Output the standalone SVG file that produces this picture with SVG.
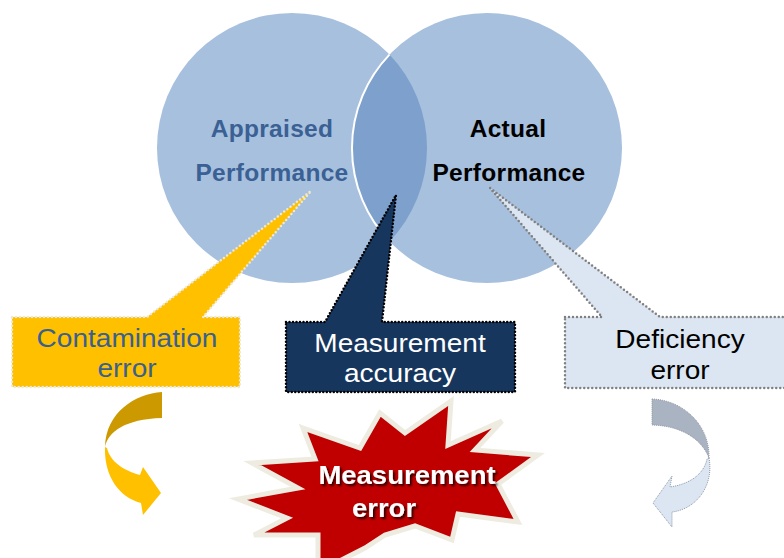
<svg xmlns="http://www.w3.org/2000/svg" width="784" height="558" viewBox="0 0 784 558">
<style>
.t{font-family:"Liberation Sans",Arial,sans-serif;text-anchor:middle}
.b{font-weight:bold;font-size:24.5px;letter-spacing:0.3px}
.r{font-size:25.5px}
.circ{fill:#A7C0DE}
</style>
<defs>
<filter id="sh" x="-10%" y="-20%" width="130%" height="150%">
<feDropShadow dx="2" dy="2" stdDeviation="1" flood-color="#000" flood-opacity="0.75"/>
</filter>
</defs>
<rect width="784" height="558" fill="#fff"/>
<g id="appraised">
<circle class="circ" cx="292" cy="148" r="135"/>
</g>
<g id="actual">
<circle class="circ" cx="487" cy="148" r="135"/>
</g>
<g id="overlap">
<path d="M389.5,54.6 A135,135 0 0,1 389.5,241.4 A135,135 0 0,1 389.5,54.6 Z" fill="#7DA1CC"/>
<path d="M389.5,54.6 A135,135 0 0,0 389.5,241.4" fill="none" stroke="#fff" stroke-width="2"/>
</g>
<g id="labels">
<text class="t b" x="272" y="137" fill="#3A6094">Appraised</text>
<text class="t b" x="272" y="181" fill="#3A6094">Performance</text>
<text class="t b" x="508" y="137" fill="#000">Actual</text>
<text class="t b" x="509" y="181" fill="#000">Performance</text>
</g>
<g id="contamination">
<path d="M12,317 L147,317 L311,191 L203,317 L240,317 L240,387 L12,387 Z" fill="#FFC000" stroke="#ECE8DC" stroke-width="2.5" stroke-dasharray="0 4" stroke-linecap="round" stroke-linejoin="round"/>
<text class="t r" transform="translate(127,347) scale(1.1,1)" fill="#3A6090">Contamination</text>
<text class="t r" transform="translate(127,377) scale(1.1,1)" fill="#3A6090">error</text>
</g>
<g id="accuracy">
<path d="M286,322 L325,322 L396,195 L382,322 L515,322 L515,392 L286,392 Z" fill="#17365D" stroke="#000" stroke-width="2.5" stroke-dasharray="0 3.5" stroke-linecap="round" stroke-linejoin="round"/>
<text class="t r" transform="translate(400,352) scale(1.1,1)" fill="#fff">Measurement</text>
<text class="t r" transform="translate(400,382) scale(1.1,1)" fill="#fff">accuracy</text>
</g>
<g id="deficiency">
<path d="M565,317 L602,317 L490,188 L660,317 L800,317 L800,388 L565,388 Z" fill="#DCE6F2" stroke="#808080" stroke-width="2.5" stroke-dasharray="0 4" stroke-linecap="round" stroke-linejoin="round"/>
<text class="t r" transform="translate(680,348) scale(1.1,1)" fill="#000">Deficiency</text>
<text class="t r" transform="translate(680,379) scale(1.1,1)" fill="#000">error</text>
</g>
<g id="connectors">
<path d="M162,392 C135,394 106,412 105,447 C108,432 125,419 162,418 Z" fill="#CC9A00"/>
<path d="M105,447 C104,475 118,497 141,503 L143,515 L161,493 L143,467 L140,475 C125,471 110,462 107,448 Z" fill="#FFC000"/>
<path d="M652,399 C683,400 710,425 709,458 C702,440 683,426 652,425 Z" fill="#AAB3C1" stroke="#9099A6" stroke-width="1" stroke-dasharray="1 1"/>
<path d="M709,458 C714,485 697,509 672,512 L672,527 L653,503 L672,476 L670,487 C690,484 704,474 707,459 Z" fill="#DCE6F2" stroke="#9099A6" stroke-width="1" stroke-dasharray="1 1"/>
</g>
<g id="error">
<path d="M303,428 L360,448 L380,413 L405,433 L451,401 L448,445 L502,421 L475,450 L538,455 L498,484 L518,522 L458,514 L452,540 L415,526 L385,535 L365,548 L318,572 L318,535 L254,535 L287,518 L238,499 L298,488 L252,463 L315,459 Z" fill="#C00000" stroke="#EEECE1" stroke-width="5" stroke-linejoin="miter"/>
<g filter="url(#sh)">
<text class="t" transform="translate(407,484) scale(1.1,1)" font-size="25" font-weight="bold" fill="#fff">Measurement</text>
<text class="t" transform="translate(384,517) scale(1.1,1)" font-size="25" font-weight="bold" fill="#fff">error</text>
</g>
</g>
</svg>
